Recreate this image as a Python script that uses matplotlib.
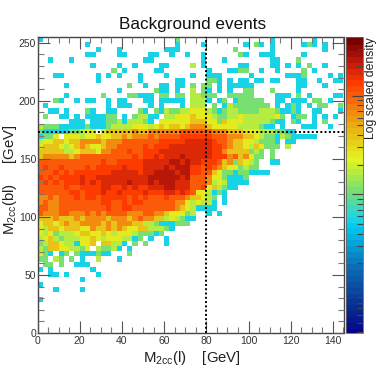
import numpy as np
import matplotlib
matplotlib.use('Agg')
import matplotlib.pyplot as plt
from matplotlib.colors import LinearSegmentedColormap, LogNorm
from matplotlib.ticker import LogLocator, MultipleLocator, NullFormatter

plt.rcParams['font.family'] = ['Liberation Sans']
plt.rcParams['mathtext.fontset'] = 'custom'
plt.rcParams['mathtext.rm'] = 'Liberation Sans'

# density, one character per bin, top row first
# . empty, then 1 (cyan) up to a (darkest red)
level_density = [np.nan, 6.2, 11.6, 17.6, 25, 40.3, 65.3, 106, 140, 184, 243]

cells = [
    "1......... .......... ......2... .......... ....1..... ..1.....",
    ".........1 .......... ......1... .1.......1 .21.1..... 121.1...",
    ".......... .1...1.... ....111... .......2.. ....1..... ....1...",
    ".........1 1....11... .11..1..1. .1......21 ..111..... 1.......",
    "..1...1... .......... 11........ .1...1.... ....11...2 ........",
    ".......... 1....1..1. ...11....3 .1......11 ....11.1.1 .2..1...",
    ".......... ....2.1... ..11...... ..1...1122 ..1..1.... 2.1.....",
    "...11..... .1.1.1...1 ....1....1 ..111..... 1......111 2....1.1",
    ".......... .1.......1 ......11.. ..221.1.11 .11.11...1 1..1..11",
    ".....1.... .......2.. 1..11.11.2 .22.1.1111 1........1 1...1...",
    ".......... .....1.... ..211.1..3 .21.1.1..2 2...2....1 ........",
    ".....1.... ..2....221 11.22.22.3 3222..2222 2....111.2 .1....11",
    "...21..1.1 1..1.11... 11.11111.3 331.12.122 222..11.11 1.22.1..",
    ".1........ ...1.111.. .1.1...1.3 33.2.13222 2222.1.121 .1.22..2",
    "..11.1...2 1..11....2 1.21322334 4432123322 2233321121 ..11...1",
    ".2..11.1.1 11122.1.23 311.334445 4443223343 3333342.12 2.1.1.1.",
    "......111. 1112231333 21.4444445 5544254443 3333211.21 ..1.2...",
    "3222111112 1112333344 4345455456 6654444433 33211.1... 111..1..",
    "2111112234 4.45555565 5666666777 7776665554 443332211. ........",
    "1224.44434 4544556566 6767777888 8887776665 5432213211 111.....",
    "3445545566 6656667777 7778888899 9998776554 43222 1.11 ........",
    "4555434565 4456677777 8788899999 9998876554 354222.3.. ........",
    "5555533455 5466777877 8889999999 9998865555 232.2..... ........",
    "5666665677 7777777787 8898999a99 9998886756 422.2..... ........",
    "7777777777 7787788888 99999aa9a9 9888756254 32..11.... ........",
    "7877877778 7888889888 9999a9aaa8 8787654423 22........ ........",
    "7778787888 8888999998 99aaaa9aa8 8775422122 1111...... ........",
    "8787888898 8999999999 9aaaaaa9a7 7764421112 .......... ........",
    "7878788898 9899999a99 9a9aaa9997 7763431111 .......... ........",
    "7777787788 8899889898 8999aa9997 7845321 1.. .......... ........",
    "7777778878 8898898888 9888998987 443121.... .......... ........",
    "6676777878 8788888787 8777877765 5432.1.... .......... ........",
    "6766777777 7788778788 7777776643 4331.1.... .......... ........",
    "7766777777 7778778877 7777776543 1111...... .......... ........",
    "7666776667 6767777666 7766544423 ..1.1..... .......... ........",
    "5556555656 6665666567 6655343211 .......... .......... ........",
    "4554565566 6656566655 332111222. .......... .......... ........",
    "4355455544 6556565445 533321.... .......... .......... ........",
    "4342333455 4454344432 2212...... .......... .......... ........",
    "3453233344 5434443312 .1..1..... .......... .......... ........",
    "2355433144 5.55331.2. 2...1..... .......... .......... ........",
    "3255443324 .32231.1.. .......... .......... .......... ........",
    "421.12.211 1211...2.. .......... .......... .......... ........",
    "22.32.2.1. .3...1.... .......... .......... .......... ........",
    ".22.2..111 .......... .......... .......... .......... ........",
    "1.1....... 1......... .......... .......... .......... ........",
    "..11.1.... .1........ .......... .......... .......... ........",
    "........1. .......... .......... .......... .......... ........",
    "1......... .......... .......... .......... .......... ........",
    "...1....1. .......... .......... .......... .......... ........",
    ".......... .......... .......... .......... .......... ........",
    "1......... .......... .......... .......... .......... ........",
]

n_rows = 58
n_cols = 58
x_max = 145.0
y_max = 255.0
m_w = 80.0
m_top = 173.0

x_ticks = [0, 20, 40, 60, 80, 100, 120, 140]
y_ticks = [0, 50, 100, 150, 200, 250]

title_text = 'Background events'
x_text = r'M$_{\mathrm{2cc}}$(l)    [GeV]'
y_text = r'M$_{\mathrm{2cc}}$(bl)     [GeV]'
z_text = 'Log scaled density'

# colours taken from the palette bar
palette_pos = [0.0, 0.08, 0.22, 0.36, 0.40, 0.49, 0.595, 0.715, 0.805, 0.855, 0.92, 1.0]
palette_col = ['#04048a', '#0a2a90', '#0c6ab4', '#00c8f0', '#22d6e0', '#78e070',
               '#e2f520', '#ebaa14', '#fa640a', '#ff3c00', '#c81e0a', '#7a0000']
cmap = LinearSegmentedColormap.from_list('root', list(zip(palette_pos, palette_col)), N=50)
cmap.set_bad((1, 1, 1, 0))

W, H = 382.0, 371.0


def px_axes(fig, x0, y0, x1, y1):
    return fig.add_axes([x0 / W, 1 - y1 / H, (x1 - x0) / W, (y1 - y0) / H])


z = np.full((n_rows, n_cols), np.nan)
for r, row in enumerate(cells):
    row = row.replace(' ', '').ljust(n_cols, '.')[:n_cols]
    for c, ch in enumerate(row):
        if ch != '.':
            z[r, c] = level_density[int(ch, 16)]

x_edges = np.linspace(0, x_max, n_cols + 1)
y_edges = np.linspace(y_max, 0, n_rows + 1)

fig = plt.figure(figsize=(W / 100, H / 100), dpi=100)
ax = px_axes(fig, 37.5, 37, 343.5, 333)
norm = LogNorm(vmin=0.393, vmax=393)
mesh = ax.pcolormesh(x_edges, y_edges, z, cmap=cmap, norm=norm, linewidth=0)

ax.axvline(m_w, color='k', ls=(0, (1, 1.2)), lw=1.4, zorder=4)
ax.axhline(m_top, color='k', ls=(0, (1, 1.2)), lw=1.4, zorder=4)

ax.set_xlim(0, x_max)
ax.set_ylim(0, y_max)
ax.set_xticks(x_ticks)
ax.set_yticks(y_ticks)
ax.xaxis.set_minor_locator(MultipleLocator(5))
ax.yaxis.set_minor_locator(MultipleLocator(10))
ax.tick_params(which='major', direction='in', top=True, right=True, length=8.5, width=0.8,
               color='#555555', labelcolor='#333333', labelsize=7.5, pad=2)
ax.tick_params(axis='y', which='major', pad=1)
ax.tick_params(which='minor', direction='in', top=True, right=True, length=4, width=0.8,
               color='#777777')
ax.set_axisbelow(False)
for s in ax.spines.values():
    s.set_color('#444444')
    s.set_linewidth(1.0)

fig.text(193 / W, 1 - 24 / H, title_text, ha='center', va='center', fontsize=12.3, color='#111111')
fig.text(192 / W, 1 - 358 / H, x_text, ha='center', va='center', fontsize=10.7, color='#222222')
fig.text(10 / W, 1 - 180 / H, y_text, ha='center', va='center', rotation=90, fontsize=10.7, color='#222222')

cax = px_axes(fig, 345.5, 37, 362.5, 333)
cbar = fig.colorbar(mesh, cax=cax)
cbar.solids.set_edgecolor('face')
cax.yaxis.set_major_locator(LogLocator(base=10, numticks=6))
cax.yaxis.set_minor_locator(LogLocator(base=10, subs=np.arange(2, 10) * 0.1, numticks=12))
cax.yaxis.set_major_formatter(NullFormatter())
cax.yaxis.set_minor_formatter(NullFormatter())
cax.tick_params(which='major', direction='in', length=8, width=0.8, color='#444444', right=True)
cax.tick_params(which='minor', direction='in', length=4, width=0.8, color='#444444', right=True)
cbar.outline.set_edgecolor('#666666')
cbar.outline.set_linewidth(0.6)
fig.text(371 / W, 1 - 37 / H, z_text, ha='center', va='top', rotation=90, fontsize=8.8, color='#222222')

fig.savefig('out.png', dpi=100)
